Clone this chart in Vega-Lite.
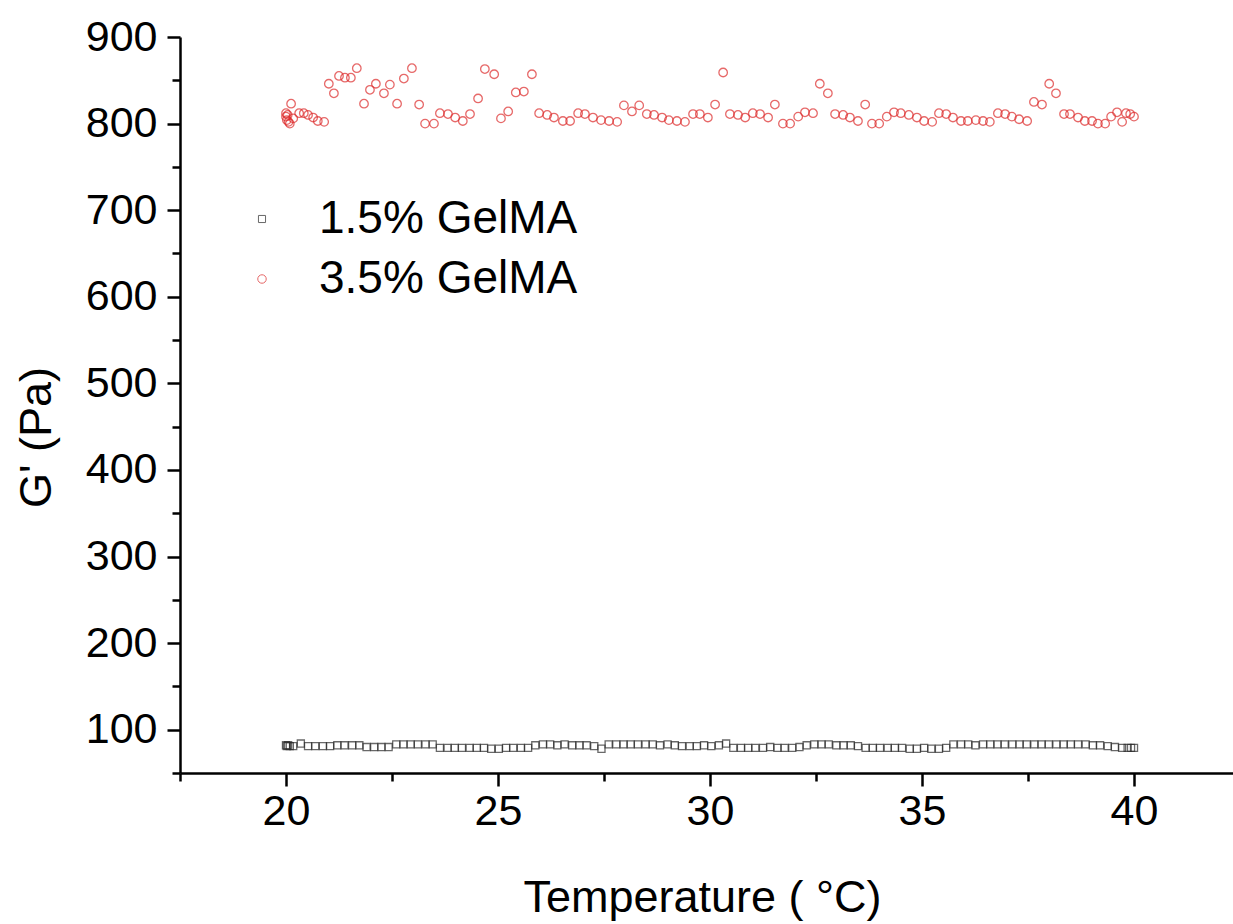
{
  "$schema": "https://vega.github.io/schema/vega-lite/v6.json",
  "autosize": {"type": "none"},
  "padding": {"left": 180, "top": 37, "right": 0, "bottom": 151},
  "width": 1060,
  "height": 736,
  "background": "white",
  "config": {
    "view": {"stroke": null},
    "font": "Liberation Sans",
    "axis": {"grid": false, "domainColor": "black", "domainWidth": 2.5, "tickColor": "black", "tickWidth": 2.5, "labelColor": "black", "titleColor": "black", "labelFont": "Liberation Sans", "titleFont": "Liberation Sans", "labelFontSize": 43, "titleFontSize": 45, "titleFontWeight": "normal"}
  },
  "datasets": {
    "pts": [
      {"T": 20.00, "G": 82, "sample": "1.5% GelMA"},
      {"T": 20.02, "G": 81, "sample": "1.5% GelMA"},
      {"T": 20.05, "G": 82, "sample": "1.5% GelMA"},
      {"T": 20.09, "G": 81, "sample": "1.5% GelMA"},
      {"T": 20.17, "G": 81, "sample": "1.5% GelMA"},
      {"T": 20.35, "G": 84, "sample": "1.5% GelMA"},
      {"T": 20.52, "G": 81, "sample": "1.5% GelMA"},
      {"T": 20.69, "G": 81, "sample": "1.5% GelMA"},
      {"T": 20.87, "G": 81, "sample": "1.5% GelMA"},
      {"T": 21.04, "G": 81, "sample": "1.5% GelMA"},
      {"T": 21.21, "G": 82, "sample": "1.5% GelMA"},
      {"T": 21.38, "G": 82, "sample": "1.5% GelMA"},
      {"T": 21.56, "G": 82, "sample": "1.5% GelMA"},
      {"T": 21.73, "G": 82, "sample": "1.5% GelMA"},
      {"T": 21.90, "G": 80, "sample": "1.5% GelMA"},
      {"T": 22.08, "G": 80, "sample": "1.5% GelMA"},
      {"T": 22.25, "G": 80, "sample": "1.5% GelMA"},
      {"T": 22.42, "G": 80, "sample": "1.5% GelMA"},
      {"T": 22.60, "G": 83, "sample": "1.5% GelMA"},
      {"T": 22.77, "G": 83, "sample": "1.5% GelMA"},
      {"T": 22.94, "G": 83, "sample": "1.5% GelMA"},
      {"T": 23.11, "G": 83, "sample": "1.5% GelMA"},
      {"T": 23.29, "G": 83, "sample": "1.5% GelMA"},
      {"T": 23.46, "G": 83, "sample": "1.5% GelMA"},
      {"T": 23.63, "G": 79, "sample": "1.5% GelMA"},
      {"T": 23.81, "G": 79, "sample": "1.5% GelMA"},
      {"T": 23.98, "G": 79, "sample": "1.5% GelMA"},
      {"T": 24.15, "G": 79, "sample": "1.5% GelMA"},
      {"T": 24.33, "G": 79, "sample": "1.5% GelMA"},
      {"T": 24.50, "G": 79, "sample": "1.5% GelMA"},
      {"T": 24.67, "G": 79, "sample": "1.5% GelMA"},
      {"T": 24.84, "G": 78, "sample": "1.5% GelMA"},
      {"T": 25.02, "G": 78, "sample": "1.5% GelMA"},
      {"T": 25.19, "G": 79, "sample": "1.5% GelMA"},
      {"T": 25.36, "G": 79, "sample": "1.5% GelMA"},
      {"T": 25.54, "G": 79, "sample": "1.5% GelMA"},
      {"T": 25.71, "G": 79, "sample": "1.5% GelMA"},
      {"T": 25.88, "G": 82, "sample": "1.5% GelMA"},
      {"T": 26.06, "G": 83, "sample": "1.5% GelMA"},
      {"T": 26.23, "G": 83, "sample": "1.5% GelMA"},
      {"T": 26.40, "G": 82, "sample": "1.5% GelMA"},
      {"T": 26.57, "G": 83, "sample": "1.5% GelMA"},
      {"T": 26.75, "G": 82, "sample": "1.5% GelMA"},
      {"T": 26.92, "G": 82, "sample": "1.5% GelMA"},
      {"T": 27.09, "G": 82, "sample": "1.5% GelMA"},
      {"T": 27.27, "G": 81, "sample": "1.5% GelMA"},
      {"T": 27.44, "G": 78, "sample": "1.5% GelMA"},
      {"T": 27.61, "G": 83, "sample": "1.5% GelMA"},
      {"T": 27.79, "G": 83, "sample": "1.5% GelMA"},
      {"T": 27.96, "G": 83, "sample": "1.5% GelMA"},
      {"T": 28.13, "G": 83, "sample": "1.5% GelMA"},
      {"T": 28.30, "G": 83, "sample": "1.5% GelMA"},
      {"T": 28.48, "G": 83, "sample": "1.5% GelMA"},
      {"T": 28.65, "G": 83, "sample": "1.5% GelMA"},
      {"T": 28.82, "G": 82, "sample": "1.5% GelMA"},
      {"T": 29.00, "G": 83, "sample": "1.5% GelMA"},
      {"T": 29.17, "G": 82, "sample": "1.5% GelMA"},
      {"T": 29.34, "G": 81, "sample": "1.5% GelMA"},
      {"T": 29.52, "G": 81, "sample": "1.5% GelMA"},
      {"T": 29.69, "G": 81, "sample": "1.5% GelMA"},
      {"T": 29.86, "G": 82, "sample": "1.5% GelMA"},
      {"T": 30.03, "G": 81, "sample": "1.5% GelMA"},
      {"T": 30.21, "G": 82, "sample": "1.5% GelMA"},
      {"T": 30.38, "G": 84, "sample": "1.5% GelMA"},
      {"T": 30.55, "G": 79, "sample": "1.5% GelMA"},
      {"T": 30.73, "G": 79, "sample": "1.5% GelMA"},
      {"T": 30.90, "G": 79, "sample": "1.5% GelMA"},
      {"T": 31.07, "G": 79, "sample": "1.5% GelMA"},
      {"T": 31.25, "G": 79, "sample": "1.5% GelMA"},
      {"T": 31.42, "G": 80, "sample": "1.5% GelMA"},
      {"T": 31.59, "G": 79, "sample": "1.5% GelMA"},
      {"T": 31.76, "G": 79, "sample": "1.5% GelMA"},
      {"T": 31.94, "G": 79, "sample": "1.5% GelMA"},
      {"T": 32.11, "G": 80, "sample": "1.5% GelMA"},
      {"T": 32.28, "G": 82, "sample": "1.5% GelMA"},
      {"T": 32.46, "G": 83, "sample": "1.5% GelMA"},
      {"T": 32.63, "G": 83, "sample": "1.5% GelMA"},
      {"T": 32.80, "G": 83, "sample": "1.5% GelMA"},
      {"T": 32.98, "G": 82, "sample": "1.5% GelMA"},
      {"T": 33.15, "G": 82, "sample": "1.5% GelMA"},
      {"T": 33.32, "G": 82, "sample": "1.5% GelMA"},
      {"T": 33.49, "G": 81, "sample": "1.5% GelMA"},
      {"T": 33.67, "G": 79, "sample": "1.5% GelMA"},
      {"T": 33.84, "G": 79, "sample": "1.5% GelMA"},
      {"T": 34.01, "G": 79, "sample": "1.5% GelMA"},
      {"T": 34.19, "G": 79, "sample": "1.5% GelMA"},
      {"T": 34.36, "G": 79, "sample": "1.5% GelMA"},
      {"T": 34.53, "G": 79, "sample": "1.5% GelMA"},
      {"T": 34.71, "G": 78, "sample": "1.5% GelMA"},
      {"T": 34.88, "G": 78, "sample": "1.5% GelMA"},
      {"T": 35.05, "G": 79, "sample": "1.5% GelMA"},
      {"T": 35.22, "G": 78, "sample": "1.5% GelMA"},
      {"T": 35.40, "G": 78, "sample": "1.5% GelMA"},
      {"T": 35.57, "G": 79, "sample": "1.5% GelMA"},
      {"T": 35.74, "G": 83, "sample": "1.5% GelMA"},
      {"T": 35.92, "G": 83, "sample": "1.5% GelMA"},
      {"T": 36.09, "G": 83, "sample": "1.5% GelMA"},
      {"T": 36.26, "G": 82, "sample": "1.5% GelMA"},
      {"T": 36.44, "G": 83, "sample": "1.5% GelMA"},
      {"T": 36.61, "G": 83, "sample": "1.5% GelMA"},
      {"T": 36.78, "G": 83, "sample": "1.5% GelMA"},
      {"T": 36.95, "G": 83, "sample": "1.5% GelMA"},
      {"T": 37.13, "G": 83, "sample": "1.5% GelMA"},
      {"T": 37.30, "G": 83, "sample": "1.5% GelMA"},
      {"T": 37.47, "G": 83, "sample": "1.5% GelMA"},
      {"T": 37.65, "G": 83, "sample": "1.5% GelMA"},
      {"T": 37.82, "G": 83, "sample": "1.5% GelMA"},
      {"T": 37.99, "G": 83, "sample": "1.5% GelMA"},
      {"T": 38.17, "G": 83, "sample": "1.5% GelMA"},
      {"T": 38.34, "G": 83, "sample": "1.5% GelMA"},
      {"T": 38.51, "G": 83, "sample": "1.5% GelMA"},
      {"T": 38.68, "G": 83, "sample": "1.5% GelMA"},
      {"T": 38.86, "G": 83, "sample": "1.5% GelMA"},
      {"T": 39.03, "G": 82, "sample": "1.5% GelMA"},
      {"T": 39.20, "G": 82, "sample": "1.5% GelMA"},
      {"T": 39.38, "G": 81, "sample": "1.5% GelMA"},
      {"T": 39.55, "G": 80, "sample": "1.5% GelMA"},
      {"T": 39.72, "G": 79, "sample": "1.5% GelMA"},
      {"T": 39.85, "G": 79, "sample": "1.5% GelMA"},
      {"T": 39.93, "G": 79, "sample": "1.5% GelMA"},
      {"T": 40.00, "G": 79, "sample": "1.5% GelMA"},
      {"T": 20.00, "G": 812, "sample": "3.5% GelMA"},
      {"T": 20.00, "G": 808, "sample": "3.5% GelMA"},
      {"T": 20.02, "G": 804, "sample": "3.5% GelMA"},
      {"T": 20.04, "G": 810, "sample": "3.5% GelMA"},
      {"T": 20.06, "G": 802, "sample": "3.5% GelMA"},
      {"T": 20.09, "G": 800, "sample": "3.5% GelMA"},
      {"T": 20.12, "G": 823, "sample": "3.5% GelMA"},
      {"T": 20.17, "G": 806, "sample": "3.5% GelMA"},
      {"T": 20.31, "G": 812, "sample": "3.5% GelMA"},
      {"T": 20.42, "G": 812, "sample": "3.5% GelMA"},
      {"T": 20.52, "G": 810, "sample": "3.5% GelMA"},
      {"T": 20.64, "G": 807, "sample": "3.5% GelMA"},
      {"T": 20.75, "G": 803, "sample": "3.5% GelMA"},
      {"T": 20.90, "G": 802, "sample": "3.5% GelMA"},
      {"T": 21.01, "G": 846, "sample": "3.5% GelMA"},
      {"T": 21.13, "G": 835, "sample": "3.5% GelMA"},
      {"T": 21.25, "G": 855, "sample": "3.5% GelMA"},
      {"T": 21.39, "G": 853, "sample": "3.5% GelMA"},
      {"T": 21.53, "G": 853, "sample": "3.5% GelMA"},
      {"T": 21.67, "G": 864, "sample": "3.5% GelMA"},
      {"T": 21.84, "G": 823, "sample": "3.5% GelMA"},
      {"T": 21.98, "G": 839, "sample": "3.5% GelMA"},
      {"T": 22.12, "G": 846, "sample": "3.5% GelMA"},
      {"T": 22.31, "G": 835, "sample": "3.5% GelMA"},
      {"T": 22.45, "G": 845, "sample": "3.5% GelMA"},
      {"T": 22.62, "G": 823, "sample": "3.5% GelMA"},
      {"T": 22.78, "G": 852, "sample": "3.5% GelMA"},
      {"T": 22.97, "G": 864, "sample": "3.5% GelMA"},
      {"T": 23.14, "G": 822, "sample": "3.5% GelMA"},
      {"T": 23.28, "G": 800, "sample": "3.5% GelMA"},
      {"T": 23.49, "G": 800, "sample": "3.5% GelMA"},
      {"T": 23.63, "G": 812, "sample": "3.5% GelMA"},
      {"T": 23.82, "G": 811, "sample": "3.5% GelMA"},
      {"T": 23.99, "G": 807, "sample": "3.5% GelMA"},
      {"T": 24.17, "G": 803, "sample": "3.5% GelMA"},
      {"T": 24.34, "G": 811, "sample": "3.5% GelMA"},
      {"T": 24.53, "G": 829, "sample": "3.5% GelMA"},
      {"T": 24.69, "G": 863, "sample": "3.5% GelMA"},
      {"T": 24.91, "G": 857, "sample": "3.5% GelMA"},
      {"T": 25.07, "G": 806, "sample": "3.5% GelMA"},
      {"T": 25.24, "G": 814, "sample": "3.5% GelMA"},
      {"T": 25.42, "G": 836, "sample": "3.5% GelMA"},
      {"T": 25.61, "G": 837, "sample": "3.5% GelMA"},
      {"T": 25.80, "G": 857, "sample": "3.5% GelMA"},
      {"T": 25.97, "G": 812, "sample": "3.5% GelMA"},
      {"T": 26.16, "G": 810, "sample": "3.5% GelMA"},
      {"T": 26.32, "G": 807, "sample": "3.5% GelMA"},
      {"T": 26.53, "G": 803, "sample": "3.5% GelMA"},
      {"T": 26.70, "G": 803, "sample": "3.5% GelMA"},
      {"T": 26.89, "G": 812, "sample": "3.5% GelMA"},
      {"T": 27.05, "G": 811, "sample": "3.5% GelMA"},
      {"T": 27.24, "G": 807, "sample": "3.5% GelMA"},
      {"T": 27.43, "G": 804, "sample": "3.5% GelMA"},
      {"T": 27.62, "G": 803, "sample": "3.5% GelMA"},
      {"T": 27.81, "G": 802, "sample": "3.5% GelMA"},
      {"T": 27.97, "G": 821, "sample": "3.5% GelMA"},
      {"T": 28.16, "G": 814, "sample": "3.5% GelMA"},
      {"T": 28.33, "G": 821, "sample": "3.5% GelMA"},
      {"T": 28.51, "G": 811, "sample": "3.5% GelMA"},
      {"T": 28.68, "G": 810, "sample": "3.5% GelMA"},
      {"T": 28.87, "G": 807, "sample": "3.5% GelMA"},
      {"T": 29.03, "G": 804, "sample": "3.5% GelMA"},
      {"T": 29.22, "G": 803, "sample": "3.5% GelMA"},
      {"T": 29.41, "G": 802, "sample": "3.5% GelMA"},
      {"T": 29.60, "G": 811, "sample": "3.5% GelMA"},
      {"T": 29.76, "G": 811, "sample": "3.5% GelMA"},
      {"T": 29.95, "G": 807, "sample": "3.5% GelMA"},
      {"T": 30.12, "G": 822, "sample": "3.5% GelMA"},
      {"T": 30.31, "G": 859, "sample": "3.5% GelMA"},
      {"T": 30.47, "G": 811, "sample": "3.5% GelMA"},
      {"T": 30.66, "G": 810, "sample": "3.5% GelMA"},
      {"T": 30.83, "G": 807, "sample": "3.5% GelMA"},
      {"T": 31.01, "G": 812, "sample": "3.5% GelMA"},
      {"T": 31.18, "G": 811, "sample": "3.5% GelMA"},
      {"T": 31.37, "G": 807, "sample": "3.5% GelMA"},
      {"T": 31.53, "G": 822, "sample": "3.5% GelMA"},
      {"T": 31.72, "G": 800, "sample": "3.5% GelMA"},
      {"T": 31.89, "G": 800, "sample": "3.5% GelMA"},
      {"T": 32.08, "G": 808, "sample": "3.5% GelMA"},
      {"T": 32.24, "G": 813, "sample": "3.5% GelMA"},
      {"T": 32.43, "G": 812, "sample": "3.5% GelMA"},
      {"T": 32.59, "G": 846, "sample": "3.5% GelMA"},
      {"T": 32.78, "G": 835, "sample": "3.5% GelMA"},
      {"T": 32.95, "G": 811, "sample": "3.5% GelMA"},
      {"T": 33.14, "G": 810, "sample": "3.5% GelMA"},
      {"T": 33.30, "G": 807, "sample": "3.5% GelMA"},
      {"T": 33.49, "G": 803, "sample": "3.5% GelMA"},
      {"T": 33.66, "G": 822, "sample": "3.5% GelMA"},
      {"T": 33.82, "G": 800, "sample": "3.5% GelMA"},
      {"T": 33.99, "G": 800, "sample": "3.5% GelMA"},
      {"T": 34.17, "G": 808, "sample": "3.5% GelMA"},
      {"T": 34.34, "G": 813, "sample": "3.5% GelMA"},
      {"T": 34.50, "G": 812, "sample": "3.5% GelMA"},
      {"T": 34.69, "G": 810, "sample": "3.5% GelMA"},
      {"T": 34.88, "G": 807, "sample": "3.5% GelMA"},
      {"T": 35.05, "G": 803, "sample": "3.5% GelMA"},
      {"T": 35.24, "G": 802, "sample": "3.5% GelMA"},
      {"T": 35.40, "G": 812, "sample": "3.5% GelMA"},
      {"T": 35.57, "G": 811, "sample": "3.5% GelMA"},
      {"T": 35.73, "G": 807, "sample": "3.5% GelMA"},
      {"T": 35.92, "G": 803, "sample": "3.5% GelMA"},
      {"T": 36.08, "G": 803, "sample": "3.5% GelMA"},
      {"T": 36.27, "G": 804, "sample": "3.5% GelMA"},
      {"T": 36.44, "G": 803, "sample": "3.5% GelMA"},
      {"T": 36.60, "G": 802, "sample": "3.5% GelMA"},
      {"T": 36.79, "G": 812, "sample": "3.5% GelMA"},
      {"T": 36.96, "G": 811, "sample": "3.5% GelMA"},
      {"T": 37.12, "G": 808, "sample": "3.5% GelMA"},
      {"T": 37.29, "G": 805, "sample": "3.5% GelMA"},
      {"T": 37.48, "G": 803, "sample": "3.5% GelMA"},
      {"T": 37.64, "G": 825, "sample": "3.5% GelMA"},
      {"T": 37.83, "G": 822, "sample": "3.5% GelMA"},
      {"T": 38.00, "G": 846, "sample": "3.5% GelMA"},
      {"T": 38.16, "G": 835, "sample": "3.5% GelMA"},
      {"T": 38.35, "G": 811, "sample": "3.5% GelMA"},
      {"T": 38.49, "G": 811, "sample": "3.5% GelMA"},
      {"T": 38.68, "G": 807, "sample": "3.5% GelMA"},
      {"T": 38.84, "G": 803, "sample": "3.5% GelMA"},
      {"T": 39.01, "G": 803, "sample": "3.5% GelMA"},
      {"T": 39.15, "G": 800, "sample": "3.5% GelMA"},
      {"T": 39.32, "G": 800, "sample": "3.5% GelMA"},
      {"T": 39.46, "G": 808, "sample": "3.5% GelMA"},
      {"T": 39.60, "G": 813, "sample": "3.5% GelMA"},
      {"T": 39.72, "G": 802, "sample": "3.5% GelMA"},
      {"T": 39.81, "G": 812, "sample": "3.5% GelMA"},
      {"T": 39.91, "G": 811, "sample": "3.5% GelMA"},
      {"T": 40.00, "G": 808, "sample": "3.5% GelMA"}
    ]
  },
  "data": {"name": "pts"},
  "mark": {"type": "point", "filled": false, "strokeWidth": 1.3, "clip": false},
  "encoding": {
    "x": {
      "field": "T", "type": "quantitative",
      "scale": {"domain": [17.5, 42.5], "nice": false, "zero": false},
      "axis": {
        "title": "Temperature ( °C)",
        "values": [17.5, 20, 22.5, 25, 27.5, 30, 32.5, 35, 37.5, 40, 42.5],
        "labelExpr": "datum.value % 5 === 0 ? datum.label : ''",
        "tickSize": {"condition": {"test": "datum.value % 5 === 0", "value": 13}, "value": 8},
        "labelPadding": 4,
        "labelFlush": false,
        "labelOverlap": false,
        "titleX": 522,
        "titleY": 138,
        "titleBaseline": "alphabetic",
        "titleAnchor": null
      }
    },
    "y": {
      "field": "G", "type": "quantitative",
      "scale": {"domain": [50, 900], "nice": false, "zero": false},
      "axis": {
        "title": "G' (Pa)",
        "values": [50, 100, 150, 200, 250, 300, 350, 400, 450, 500, 550, 600, 650, 700, 750, 800, 850, 900],
        "labelExpr": "datum.value % 100 === 0 ? datum.label : ''",
        "tickSize": {"condition": {"test": "datum.value % 100 === 0", "value": 13}, "value": 8},
        "labelPadding": 10,
        "labelFlush": false,
        "labelOverlap": false,
        "titleAngle": -90,
        "titleX": -130,
        "titleY": 400,
        "titleAlign": "center",
        "titleBaseline": "alphabetic"
      }
    },
    "shape": {
      "field": "sample", "type": "nominal",
      "scale": {"domain": ["1.5% GelMA", "3.5% GelMA"], "range": ["square", "circle"]},
      "legend": {
        "title": null,
        "orient": "none",
        "legendX": 59,
        "legendY": 159,
        "labelFontSize": 46,
        "labelFont": "Liberation Sans",
        "labelColor": "black",
        "labelLimit": 500,
        "symbolSize": 50,
        "symbolStrokeWidth": 1,
        "labelOffset": 34,
        "rowPadding": 14,
        "padding": 0
      }
    },
    "color": {
      "field": "sample", "type": "nominal",
      "scale": {"domain": ["1.5% GelMA", "3.5% GelMA"], "range": ["#2a2a2a", "#dd2a2a"]},
      "legend": {
        "title": null,
        "orient": "none",
        "legendX": 59,
        "legendY": 159,
        "labelFontSize": 46,
        "labelFont": "Liberation Sans",
        "labelColor": "black",
        "labelLimit": 500,
        "symbolSize": 50,
        "symbolStrokeWidth": 1,
        "labelOffset": 34,
        "rowPadding": 14,
        "padding": 0
      }
    },
    "size": {
      "field": "sample", "type": "nominal",
      "scale": {"domain": ["1.5% GelMA", "3.5% GelMA"], "range": [50, 72]},
      "legend": null
    }
  }
}
